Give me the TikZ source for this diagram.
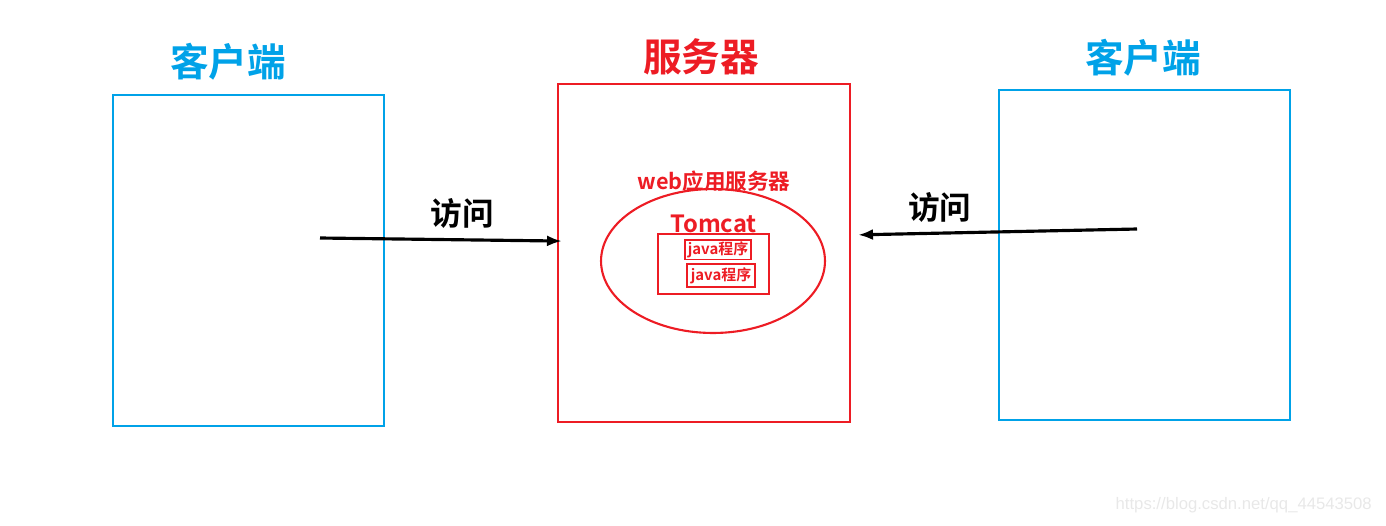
\documentclass[tikz,border=0pt]{standalone}
\usepackage{fontspec}
\setmainfont{Noto Sans CJK SC}[BoldFont=* Bold]
\newfontfamily\markfont{Liberation Sans}
\usetikzlibrary{arrows.meta, positioning, shapes}

\definecolor{clientblue}{RGB}{0,162,232}
\definecolor{serverred}{RGB}{237,28,36}

\begin{document}
\begin{tikzpicture}[x=0.02cm,y=-0.02cm,
every node/.style={font=\bfseries},
clientbox/.style={draw=clientblue,line width=1.2pt,minimum width=5.42cm,minimum height=6.62cm},
servbox/.style={draw=serverred,line width=1.2pt},
title/.style={font=\fontsize{22}{24}\selectfont\bfseries},
inner/.style={draw=serverred,line width=1pt,inner sep=1pt,text=serverred},
access/.style={-{Latex[length=0.3cm,width=0.22cm]},line width=1.8pt},
verb/.style={font=\fontsize{18}{20}\selectfont\bfseries,above=0.07cm}]
\useasboundingbox (0,0) rectangle (1386,525);
% clients and server
\node[clientbox] (client1) at (248.5,260.5) {};
\node[clientbox,minimum width=5.82cm,minimum height=6.6cm] (client2) at (1144.5,255) {};
\node[servbox,minimum width=5.84cm,minimum height=6.76cm] (server) at (704,253) {};
\node[title,text=clientblue] (t1) at (228,62) {客户端};
\node[title,text=clientblue] (t2) at (1143,58) {客户端};
\node[title,text=serverred] (ts) at (701,57) {服务器};
% web application server
\node[ellipse,servbox,minimum width=4.48cm,minimum height=2.88cm] (web) at (713,261) {};
\node[text=serverred,font=\fontsize{12.3}{14}\selectfont\bfseries] (weblbl) at (714,181) {web应用服务器};
\node[servbox,line width=1pt,minimum width=2.22cm,minimum height=1.2cm] (tomcat) at (713.5,264) {};
\node[text=serverred,font=\fontsize{13.5}{15}\selectfont\bfseries,above=-0.12cm of tomcat] (tclbl) {Tomcat};
\node[inner,font=\fontsize{8.5}{9}\selectfont\bfseries,minimum width=1.32cm,minimum height=0.34cm] (java1) at (718,249.5) {java程序};
\node[inner,font=\fontsize{8.5}{9}\selectfont\bfseries,minimum width=1.36cm,minimum height=0.46cm] (java2) at (721,275.5) {java程序};
% requests
\coordinate (lstart) at (320,238);
\coordinate (rstart) at (1137,229);
\draw[access,shorten >=-0.1cm] (lstart) -- ([yshift=0.24cm]server.west) node[verb,pos=0.6] {访问};
\draw[access,shorten >=0.14cm] (rstart) -- ([yshift=0.36cm]server.east) node[verb,pos=0.69] {访问};
\node[font=\markfont\fontsize{9.5}{11}\selectfont,text=black!9,anchor=east] (mark) at (1378,505) {https://blog.csdn.net/qq\_44543508};
\end{tikzpicture}
\end{document}
